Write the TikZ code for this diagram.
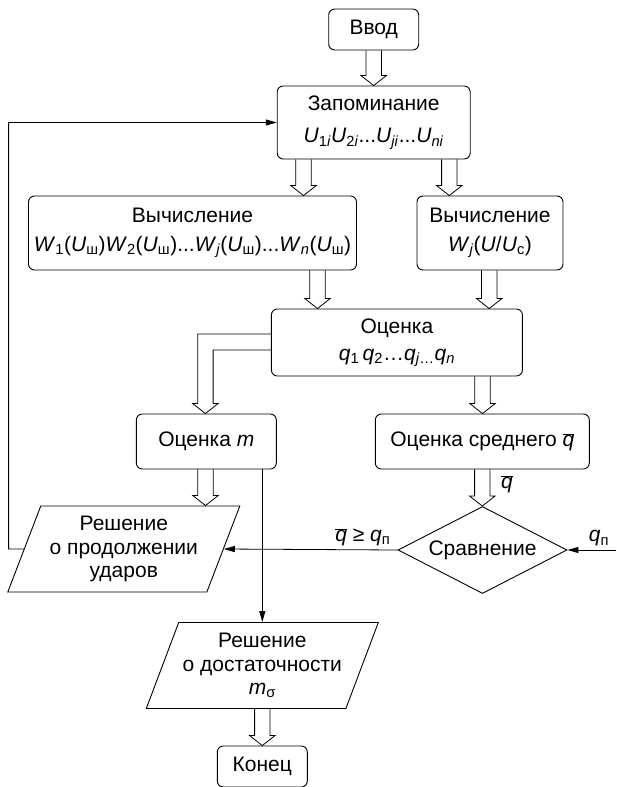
\documentclass[tikz,border=0pt]{standalone}
\usepackage{fontspec}
\setmainfont{Liberation Sans}
\usetikzlibrary{arrows.meta, calc, shapes.geometric}

\newcommand{\vi}[1]{\textit{#1}}
\newcommand{\sbs}[1]{\textsubscript{#1}}
\newcommand{\qbar}{$\overline{\mbox{\textit{q}}}$}
% hollow block arrow going down at x = #1, from node #2 to node #3
\newcommand{\bigarrow}[3]{%
  \path (#1,0 |- #2.south) coordinate (ba) (#1,0 |- #3.north) coordinate (bb);
  \draw[line width=0.8pt] ($(ba)+(-7.7,0)$) -- ($(bb)+(-7.7,-10)$) -- ($(bb)+(-12.7,-10)$) -- (bb)
    -- ($(bb)+(12.7,-10)$) -- ($(bb)+(7.7,-10)$) -- ($(ba)+(7.7,0)$);
}

\begin{document}
\begin{tikzpicture}[x=1pt, y=-1pt,
  every node/.style={font=\fontsize{21}{26}\selectfont},
  box/.style={draw, line width=0.9pt, rounded corners=6pt, align=center, inner sep=2pt},
  para/.style={draw, line width=0.9pt, trapezium, trapezium left angle=63.4, trapezium right angle=116.6,
    trapezium stretches body, minimum width=232pt, minimum height=86pt, inner sep=0pt, align=center,
    font=\fontsize{21}{23.5}\selectfont},
  decision/.style={draw, line width=0.9pt, diamond, aspect=2, minimum width=169pt, minimum height=87pt, inner sep=0pt},
  arr/.style={line width=0.8pt, -{Triangle[length=11pt, width=6pt]}}]

\useasboundingbox (0,0) rectangle (616,787);

% === Blocks ===
\node[box, minimum width=90pt, minimum height=41pt] (vvod) at (373.7,29.5) {Ввод};
\node[box, minimum width=193pt, minimum height=73pt] (zapom) at (373.7,122.5)
  {Запоминание\\[6pt]\vi{U}\sbs{1\vi{i}}\vi{U}\sbs{2\vi{i}}...\vi{U}\sbs{\vi{ji}}...\vi{U}\sbs{\vi{ni}}};
\node[box, minimum width=328pt, minimum height=74pt] (calcw) at (192.5,233)
  {Вычисление\\[3pt]\vi{W}\sbs{1}(\vi{U}\sbs{ш})\vi{W}\sbs{2}(\vi{U}\sbs{ш})...\vi{W}\sbs{\vi{j}}(\vi{U}\sbs{ш})...\vi{W}\sbs{\vi{n}}(\vi{U}\sbs{ш})};
\node[box, minimum width=146pt, minimum height=74pt] (calcj) at (490,233)
  {Вычисление\\[3pt]\vi{W}\sbs{\vi{j}}(\vi{U}/\vi{U}\sbs{с})};
\node[box, minimum width=251pt, minimum height=67pt] (ocenka) at (396.9,342.5)
  {Оценка\\[1pt]\vi{q}\sbs{1}\,\vi{q}\sbs{2}\ldots\vi{q}\sbs{\vi{j}\ldots}\vi{q}\sbs{\vi{n}}};
\node[box, minimum width=140pt, minimum height=55pt] (ocm) at (206.3,441.5) {Оценка \vi{m}};
\node[box, minimum width=214pt, minimum height=55pt] (ocq) at (482.3,441.5) {Оценка среднего \qbar};
\node[decision] (cmp) at (482.5,550) {Сравнение};
\node[para] (par1) at (123.8,549) {Решение\\о продолжении\\ударов};
\node[para] (par2) at (262.3,665.5) {Решение\\о достаточности\\\vi{m}\sbs{σ}};
\node[box, minimum width=90pt, minimum height=41pt] (konec) at (262.3,766.5) {Конец};

% === Block arrows ===
\bigarrow{373.7}{vvod}{zapom}
\bigarrow{303.5}{zapom}{calcw}
\bigarrow{449.3}{zapom}{calcj}
\bigarrow{317.5}{calcw}{ocenka}
\bigarrow{489.2}{calcj}{ocenka}
\bigarrow{482.5}{ocenka}{ocq}
\bigarrow{482.3}{ocq}{cmp}
\bigarrow{205.5}{ocm}{par1}
\bigarrow{262.3}{par2}{konec}

% bent block arrow from Оценка
\path (205.4,0 |- ocm.north) coordinate (lt);
\draw[line width=0.8pt] ($(ocenka.west)+(0,-8.5)$) -| ($(lt)+(-7.7,-10)$) -- ($(lt)+(-12.7,-10)$) -- (lt)
  -- ($(lt)+(12.7,-10)$) -- ($(lt)+(7.7,-10)$) |- ($(ocenka.west)+(0,7.5)$);

\node (qlbl) at (507,484) {\qbar};

% === Lines ===
\coordinate (fb) at (8.6,549);
\coordinate (qin) at (616,550);
\draw[arr] (par1.west) -- (fb) |- (zapom.west);
\draw[arr] (cmp.west) -- node[pos=0.2, above] {\qbar\ ≥ \vi{q}\sbs{п}} (par1.east);
\draw[arr] (qin) -- node[pos=0.35, above] {\vi{q}\sbs{п}} (cmp.east);
\draw[arr] (ocm.south -| par2.north) -- (par2.north);

\end{tikzpicture}
\end{document}
